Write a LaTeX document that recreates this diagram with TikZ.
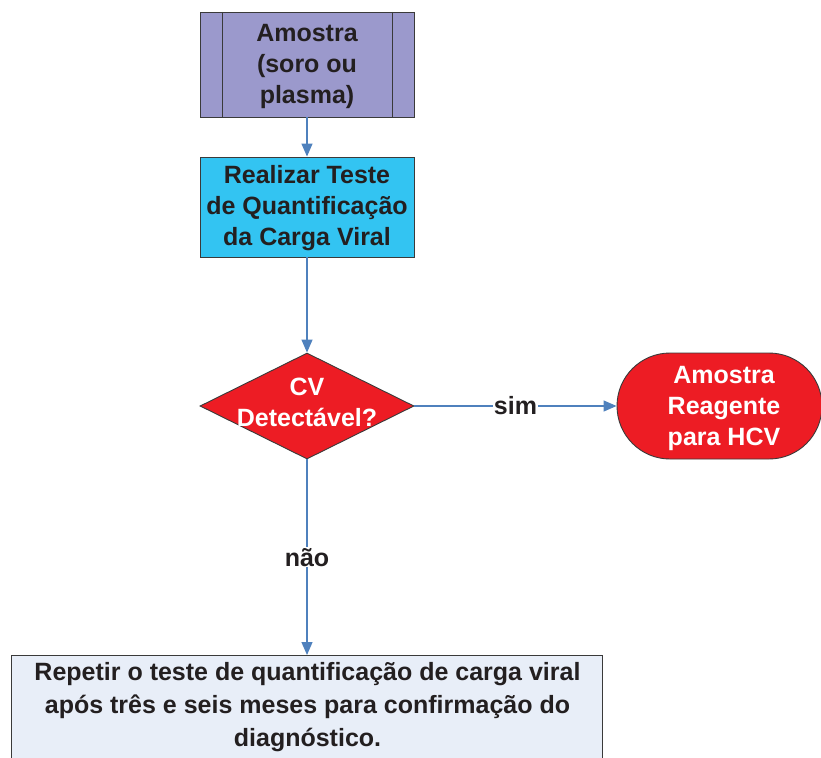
\documentclass[tikz,border=0pt]{standalone}
\usepackage{fontspec}
\setmainfont{Liberation Sans}
\usetikzlibrary{shapes.geometric,shapes.misc,arrows.meta}
\definecolor{lav}{HTML}{9B99CC}
\definecolor{cyanbox}{HTML}{33C4F2}
\definecolor{redbox}{HTML}{ED1C24}
\definecolor{palebox}{HTML}{E8EEF8}
\definecolor{arrowc}{HTML}{4F81BD}
\definecolor{txt}{HTML}{231F20}
\definecolor{edge}{HTML}{3A3A3A}
\tikzset{
  boxtxt/.style={font=\bfseries\fontsize{25}{31}\selectfont, align=center, text=txt},
  shapeedge/.style={draw=edge, line width=0.9pt},
  conn/.style={draw=arrowc, line width=1.3pt, -{Triangle[length=13pt,width=11pt]}},
  lbl/.style={fill=white, font=\bfseries\fontsize{25}{31}\selectfont, text=txt, inner sep=1pt}
}
\begin{document}
\begin{tikzpicture}[x=1pt,y=-1pt]
\useasboundingbox (0,0) rectangle (821,757);
% Amostra
\node[shapeedge, fill=lav, minimum width=214pt, minimum height=105pt, inner sep=0] (am) at (307,64.5) {};
\draw[shapeedge] (222,12) -- (222,117) (392,12) -- (392,117);
\node[boxtxt] (amt) at (307,66) {Amostra\\(soro ou\\plasma)};
% Realizar
\node[shapeedge, fill=cyanbox, minimum width=214pt, minimum height=100pt, inner sep=0] (rt) at (307,207) {};
\node[boxtxt] (rtt) at (307,208) {Realizar Teste\\de Quantificação\\da Carga Viral};
% diamond
\node[diamond, shapeedge, fill=redbox, minimum width=214pt, minimum height=106pt, inner sep=0] (cv) at (307,406) {};
\node[boxtxt, text=white] (cvt) at (307,402) {CV\\Detectável?};
% terminator
\node[rounded rectangle, shapeedge, fill=redbox, minimum width=205pt, minimum height=106pt, inner sep=0] (ar) at (719.5,406) {};
\node[boxtxt, text=white] (art) at (724,408) {Amostra\\Reagente\\para HCV};
% bottom box
\node[shapeedge, fill=palebox, minimum width=591pt, minimum height=130pt, inner sep=0, anchor=north] (rep) at (307,655) {};
\node[font=\bfseries\fontsize{25}{33}\selectfont, align=center, text=txt, anchor=north, inner sep=0] (rept) at (307.5,662) {Repetir o teste de quantificação de carga viral\\após três e seis meses para confirmação do\\diagnóstico.};
% connectors
\draw[conn] (am.south) -- (rt.north);
\draw[conn] (rt.south) -- (cv.north);
\draw[conn] (cv.east) -- node[lbl] (sim) {sim} (ar.west);
\draw[conn] (cv.south) -- node[lbl] (nao) {não} (rep.north);
\end{tikzpicture}
\end{document}
